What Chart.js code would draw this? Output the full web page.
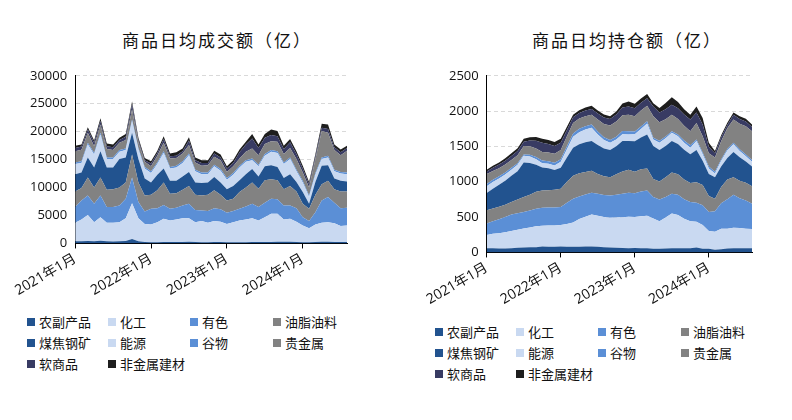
<!DOCTYPE html>
<html>
<head>
<meta charset="utf-8">
<script src="https://cdn.jsdelivr.net/npm/chart.js@4.4.0/dist/chart.umd.min.js"></script>
<style>
  body { margin: 0; width: 792px; height: 420px; background: #fff; position: relative; overflow: hidden;
         font-family: "Noto Sans CJK SC", sans-serif; }
  .title { position: absolute; top: 29px; font-size: 17px; letter-spacing: 2px; color: #111;
           transform: translateX(-50%); white-space: nowrap; line-height: 22px; }
  .box { position: absolute; }
  .item { position: absolute; white-space: nowrap; font-size: 13px; line-height: 16px; color: #111; }
  .item i { position: absolute; left: 0; top: 4px; width: 8px; height: 8px; }
  .item span { position: absolute; left: 12px; top: 0; }
</style>
</head>
<body>
<div class="title" style="left:217px">商品日均成交额（亿）</div>
<div class="title" style="left:627px">商品日均持仓额（亿）</div>
<div class="box" style="left:0;top:60px;width:400px;height:241px"><canvas id="turnoverChart"></canvas></div>
<div class="box" style="left:400px;top:60px;width:392px;height:250px"><canvas id="positionChart"></canvas></div>
<div id="legendLeft"></div>
<div id="legendRight"></div>
<script>
// months 2021-01 .. 2024-08
const months = [];
for (let y = 2021; y <= 2024; y++) {
    for (let m = 1; m <= 12; m++) {
        if (y === 2024 && m > 8) break;
        months.push(y + '年' + m + '月');
    }
}

const seriesNames = ['农副产品', '化工', '有色', '油脂油料', '煤焦钢矿', '能源', '谷物', '贵金属', '软商品', '非金属建材'];
const seriesColors = ['#22538F', '#C9D9F1', '#5B8FD6', '#828282', '#22538F', '#C9D9F1', '#5B8FD6', '#828282', '#383B63', '#1E1E1E'];

// 商品日均成交额（亿）
const turnoverAgri     = [400,400,450,400,500,400,350,400,450,800,400,250,200,200,250,250,250,250,300,250,200,200,250,250,200,200,200,200,250,250,250,250,300,300,300,250,200,200,250,300,300,250,250,250];
const turnoverChem     = [3300,3900,4650,3400,4200,3300,3350,3400,4050,6400,4100,3250,3200,3600,4150,3850,4050,4250,4200,3550,3800,3500,3750,3650,3300,3600,3900,4100,4250,3850,4450,5050,5000,4000,4100,3650,3000,2500,3150,3400,3500,3350,2850,2950];
const turnoverMetal    = [2800,3400,3500,3300,3900,2800,2800,3000,3500,4600,2900,2200,2800,2500,2500,2100,2100,2300,2600,2200,1900,2100,2300,2200,2000,2000,2100,2300,2600,2400,2600,2700,2600,2500,2400,2400,1500,1300,2200,4000,4500,3700,3200,3200];
const turnoverOil      = [2800,2200,3200,2900,3200,3100,3200,3200,2900,4100,3500,2900,2500,3200,4000,2700,2600,2800,3200,2700,2700,2900,3200,2600,2200,2200,3000,3400,3800,3300,4000,3500,3400,2900,3500,3000,2400,2200,3100,2900,2900,2400,3000,2900];
const turnoverCoal     = [3100,2800,3600,3600,4700,4000,3900,5100,4500,3900,4200,3000,2200,2800,2500,2300,2200,2400,2500,2200,2200,2200,2400,2200,2000,2300,2100,2400,2400,2200,2500,2500,2400,2000,2100,1700,2100,900,2300,3300,2800,1900,1900,1800];
const turnoverEnergy   = [1800,1700,2300,2300,3000,1500,1500,1300,1300,2100,1700,1800,1700,1900,2800,2200,2400,2400,3000,2000,1600,1500,1900,2100,1700,2000,2300,2200,1600,1800,1900,2400,2500,2500,2700,1900,1700,1200,1300,1200,1400,1300,1300,1300];
const turnoverGrain    = [300,300,300,300,300,300,300,300,300,300,300,300,300,300,300,300,300,300,300,300,300,300,300,300,300,300,300,300,300,300,300,300,300,300,300,300,300,300,300,300,300,300,300,300];
const turnoverPrecious = [2000,2050,1800,1200,1500,1500,1300,1300,1500,1800,1000,900,900,1200,1500,1500,1400,1400,1500,1300,1200,1300,1400,1600,1100,1200,1300,1500,1800,1700,1800,1600,1700,1500,1700,1900,1500,1400,2500,4700,4100,3500,3000,3900];
const turnoverSoft     = [600,600,600,600,600,500,500,500,600,900,400,300,500,500,700,400,400,400,800,400,500,400,600,500,600,600,1100,1300,1800,1300,1100,1100,1000,900,1000,900,700,600,500,600,700,500,500,500];
const turnoverBuild    = [400,350,400,400,500,500,500,400,500,500,400,400,400,400,500,500,600,500,600,500,500,500,500,500,400,500,500,500,800,600,700,1000,900,600,600,500,500,400,400,700,800,500,500,400];

// 商品日均持仓额（亿）
const positionAgri     = [60,58,55,55,60,65,70,72,75,84,80,82,84,82,79,82,84,84,80,75,70,68,62,61,62,58,61,51,51,55,61,60,58,61,70,51,51,37,45,55,61,61,61,61];
const positionChem     = [187,205,215,230,243,255,270,280,295,294,300,300,303,320,345,390,420,452,440,425,420,425,435,443,440,455,457,429,392,440,489,470,420,382,364,336,252,257,290,279,289,285,275,270];
const positionMetal    = [163,180,200,215,233,235,234,240,250,256,255,255,257,300,336,320,315,308,310,312,317,325,335,340,335,350,359,304,308,290,280,285,275,271,270,280,271,289,360,420,466,420,400,359];
const positionOil      = [187,180,178,175,178,195,210,225,240,243,245,250,256,300,327,330,320,313,280,265,256,290,315,327,305,315,312,256,252,280,303,290,280,270,289,289,224,177,230,280,247,250,250,247];
const positionCoal     = [243,280,310,340,373,400,489,450,380,326,310,280,299,340,396,410,420,419,410,395,387,395,430,405,430,450,481,466,447,440,443,430,420,406,457,341,312,303,290,303,359,330,300,280];
const positionEnergy   = [97,95,90,88,84,90,94,90,80,61,65,65,84,120,154,170,180,187,150,120,103,95,95,94,100,120,154,94,103,110,117,110,100,93,126,93,79,56,80,107,108,90,75,66];
const positionGrain    = [33,30,30,30,28,22,18,25,30,37,35,37,37,42,47,47,47,47,40,37,37,40,45,46,40,35,32,23,28,25,23,25,30,33,24,23,28,24,20,19,23,25,26,27];
const positionPrecious = [140,125,115,112,111,115,122,122,122,122,125,128,131,140,149,145,142,140,170,190,206,215,225,234,215,225,219,303,261,245,234,220,210,200,233,233,187,200,260,294,327,360,400,406];
const positionSoft     = [37,45,50,52,56,58,60,80,110,130,120,110,102,90,79,80,80,79,85,90,93,100,110,116,112,110,108,140,140,140,140,150,160,164,149,164,93,61,55,47,70,68,65,61];
const positionBuild    = [24,28,30,35,38,40,42,48,52,56,56,56,56,45,38,40,42,46,45,42,37,40,55,70,65,62,60,47,61,90,107,90,75,70,84,93,56,33,30,32,32,40,40,33];

const turnoverSeries = [turnoverAgri, turnoverChem, turnoverMetal, turnoverOil, turnoverCoal, turnoverEnergy, turnoverGrain, turnoverPrecious, turnoverSoft, turnoverBuild];
const positionSeries = [positionAgri, positionChem, positionMetal, positionOil, positionCoal, positionEnergy, positionGrain, positionPrecious, positionSoft, positionBuild];

const tickFont = { family: '"Open Sans", "Noto Sans CJK SC", sans-serif', size: 13 };
const xTickFont = { family: '"Open Sans", "Noto Sans CJK SC", sans-serif', size: 14 };

function buildDatasets(series) {
    return series.map((data, i) => ({
        label: seriesNames[i],
        data: data,
        backgroundColor: seriesColors[i],
        borderColor: seriesColors[i],
        borderWidth: 0,
        pointRadius: 0,
        tension: 0,
        fill: i === 0 ? 'origin' : '-1'
    }));
}

function createStackChart(id, series, yMax, yStep, padding) {
    const ctx = document.getElementById(id).getContext('2d');
    return new Chart(ctx, {
        type: 'line',
        data: { labels: months, datasets: buildDatasets(series) },
        options: {
            responsive: true,
            maintainAspectRatio: false,
            animation: false,
            layout: { padding: padding },
            plugins: {
                legend: { display: false },
                tooltip: { enabled: false }
            },
            scales: {
                x: {
                    offset: false,
                    border: { display: true, color: '#000', width: 1 },
                    grid: { drawOnChartArea: false, color: '#000', tickLength: 5 },
                    ticks: {
                        color: '#111',
                        font: xTickFont,
                        autoSkip: false,
                        maxRotation: 30,
                        minRotation: 30,
                        padding: 2,
                        callback: (value, index) => months[index].endsWith('年1月') ? months[index] : null
                    }
                },
                y: {
                    stacked: true,
                    min: 0,
                    max: yMax,
                    border: { display: true, color: '#000', width: 1, dash: [4, 3] },
                    grid: { color: '#d9d9d9', drawTicks: false },
                    ticks: { color: '#111', font: tickFont, stepSize: yStep, padding: 8, callback: v => String(v) }
                }
            }
        }
    });
}

createStackChart('turnoverChart', turnoverSeries, 30000, 5000, { left: 22, right: 53, top: 6, bottom: 0 });
createStackChart('positionChart', positionSeries, 2500, 500, { left: 41, right: 40, top: 4, bottom: 0 });

function buildLegend(id, left, top) {
    const colX = [0, 81, 163, 246];
    const el = document.getElementById(id);
    seriesNames.forEach((name, k) => {
        const item = document.createElement('div');
        item.className = 'item';
        item.style.left = (left + colX[k % 4]) + 'px';
        item.style.top = (top + Math.floor(k / 4) * 21) + 'px';
        item.innerHTML = '<i style="background:' + seriesColors[k] + '"></i><span>' + name + '</span>';
        el.appendChild(item);
    });
}

buildLegend('legendLeft', 27, 314);
buildLegend('legendRight', 435, 324);
</script>
</body>
</html>
